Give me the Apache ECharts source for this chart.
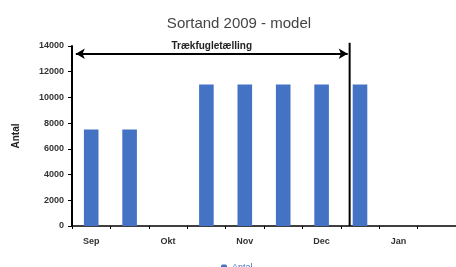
<!DOCTYPE html>
<html>
<head>
<meta charset="utf-8">
<script src="https://cdn.jsdelivr.net/npm/echarts@6/dist/echarts.min.js"></script>
<style>html,body{margin:0;padding:0;background:#fff}#main{width:456px;height:267px}</style>
</head>
<body>
<div id="main"></div>
<script>
// half-month categories, label only on the first half
const months = ['Sep', '', 'Okt', '', 'Nov', '', 'Dec', '', 'Jan', ''];
const antal = [7500, 7500, 0, 11000, 11000, 11000, 11000, 11000, 0, 0];
const yTicks = [0, 2000, 4000, 6000, 8000, 10000, 12000, 14000];
// count period, in category units on a hidden value axis
const periodStart = 0.1;
const periodEnd = 7.23;
const arrowLevel = 13400;
const lineTop = 14250;

const chart = echarts.init(document.getElementById('main'));
const font = 'Liberation Sans';

chart.setOption({
    animation: false,
    title: {
        text: 'Sortand 2009 - model',
        left: 234,
        textAlign: 'center',
        top: 11,
        textStyle: { fontFamily: font, fontSize: 15, fontWeight: 'normal', color: '#444' }
    },
    legend: {
        data: ['Antal'],
        left: 216,
        top: 258,
        itemWidth: 6,
        itemHeight: 6,
        itemGap: 4,
        textStyle: { fontFamily: font, fontSize: 9, color: '#4472C4' }
    },
    grid: { left: 72, right: -6, top: 46, bottom: 41 },
    xAxis: [
        {
            type: 'category',
            data: months,
            axisLine: { lineStyle: { color: '#000', width: 1.5 } },
            axisTick: { show: true, interval: 0, length: 3, lineStyle: { color: '#000', width: 1 } },
            axisLabel: { interval: 0, fontFamily: font, fontSize: 9, fontWeight: 'bold', color: '#333', margin: 11 }
        },
        { type: 'value', min: 0, max: months.length, show: false }
    ],
    yAxis: {
        type: 'value',
        min: 0,
        max: yTicks[yTicks.length - 1],
        interval: 2000,
        name: 'Antal',
        nameLocation: 'middle',
        nameGap: 51,
        nameTextStyle: { fontFamily: font, fontSize: 10, fontWeight: 'bold', color: '#222' },
        axisLine: { show: true, lineStyle: { color: '#000', width: 2 } },
        axisTick: { show: true, length: 4, lineStyle: { color: '#000' } },
        splitLine: { show: false },
        axisLabel: {
            fontFamily: font, fontSize: 9, fontWeight: 'bold', color: '#333', margin: 8,
            formatter: v => String(v)
        }
    },
    series: [
        {
            name: 'Antal',
            type: 'bar',
            data: antal,
            barWidth: '38%',
            itemStyle: { color: '#4472C4' }
        },
        {
            type: 'line',
            xAxisIndex: 1,
            data: [[periodEnd, 0], [periodEnd, lineTop]],
            clip: false,
            symbol: 'none',
            silent: true,
            lineStyle: { color: '#000', width: 2 },
            markLine: {
                silent: true,
                symbol: ['arrow', 'arrow'],
                symbolSize: [8, 9],
                lineStyle: { color: '#000', width: 2, type: 'solid' },
                label: {
                    show: true,
                    position: 'middle',
                    formatter: 'Trækfugletælling',
                    fontFamily: font,
                    fontSize: 10,
                    fontWeight: 'bold',
                    color: '#222',
                    distance: 2
                },
                data: [[
                    { coord: [periodStart, arrowLevel] },
                    { coord: [periodEnd - 0.05, arrowLevel] }
                ]]
            }
        }
    ]
});
</script>
</body>
</html>
